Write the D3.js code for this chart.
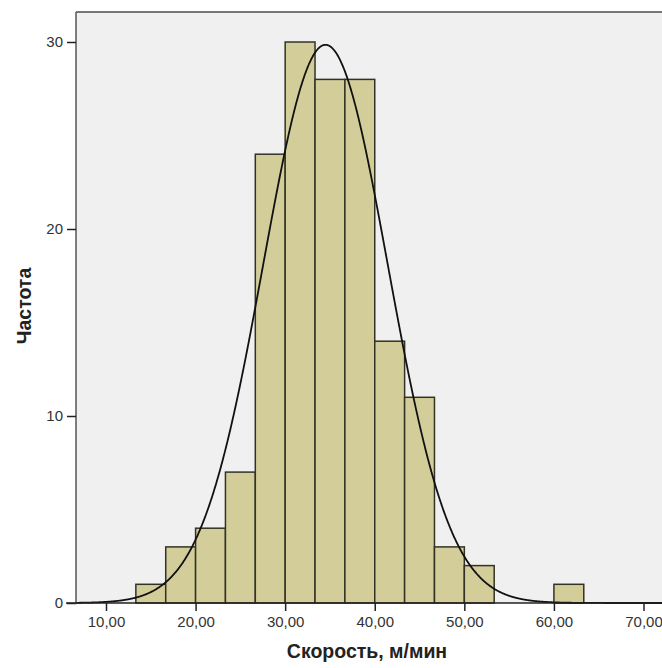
<!DOCTYPE html>
<html>
<head>
<meta charset="utf-8">
<script src="https://cdn.jsdelivr.net/npm/d3@7"></script>
<style>
  html, body { margin: 0; padding: 0; background: #ffffff; }
  svg { display: block; }
</style>
</head>
<body>
<script>
// Histogram of walking speed with a fitted normal curve.
const binWidth = 10 / 3;
const binStarts = [13.333, 16.667, 20.0, 23.333, 26.667, 30.0, 33.333, 36.667, 40.0, 43.333, 46.667, 50.0, 60.0];
const counts    = [1, 3, 4, 7, 24, 30, 28, 28, 14, 11, 3, 2, 1];
const xTicks = [10, 20, 30, 40, 50, 60, 70];
const yTicks = [0, 10, 20, 30];
const fitMean = 34.5;
const fitSD = 6.95;

const W = 662, H = 668;
const svg = d3.select("body").append("svg").attr("width", W).attr("height", H);

const x = d3.scaleLinear().domain([10, 70]).range([106, 643.5]);
const y = d3.scaleLinear().domain([0, 30]).range([603, 42]);

const plotLeft = 76, plotTop = 12, plotRight = W + 5, plotBottom = y(0);
const fontFamily = "Arial, 'Liberation Sans', sans-serif";

// plot background
svg.append("rect")
  .attr("x", plotLeft).attr("y", plotTop)
  .attr("width", plotRight - plotLeft).attr("height", plotBottom - plotTop)
  .attr("fill", "#f0f0f0");

// bars
svg.append("g").selectAll("rect")
  .data(binStarts.map((s, i) => ({ s, c: counts[i] })))
  .join("rect")
  .attr("x", d => x(d.s))
  .attr("y", d => y(d.c))
  .attr("width", d => x(d.s + binWidth) - x(d.s))
  .attr("height", d => y(0) - y(d.c))
  .attr("fill", "#d3ce99")
  .attr("stroke", "#333325")
  .attr("stroke-width", 1.5);

// normal curve scaled to counts
const total = d3.sum(counts);
const scaleK = total * binWidth / (fitSD * Math.sqrt(2 * Math.PI));
const xs = d3.range(x.invert(plotLeft), x.invert(plotRight), 0.05);
const line = d3.line()
  .x(v => x(v))
  .y(v => y(scaleK * Math.exp(-0.5 * Math.pow((v - fitMean) / fitSD, 2))));
svg.append("path")
  .datum(xs)
  .attr("d", line)
  .attr("fill", "none")
  .attr("stroke", "#111")
  .attr("stroke-width", 1.8);

// frame: top and left edges
svg.append("line")
  .attr("x1", plotLeft).attr("x2", plotRight)
  .attr("y1", plotTop).attr("y2", plotTop)
  .attr("stroke", "#777").attr("stroke-width", 2);
svg.append("line")
  .attr("x1", plotLeft).attr("x2", plotLeft)
  .attr("y1", plotTop).attr("y2", plotBottom)
  .attr("stroke", "#555").attr("stroke-width", 1.5);

// x axis
const xAxis = d3.axisBottom(x)
  .tickValues(xTicks)
  .tickSize(8)
  .tickPadding(5)
  .tickFormat(d => d3.format(".2f")(d).replace(".", ","));
const gx = svg.append("g").attr("transform", `translate(0,${plotBottom})`).call(xAxis);
gx.select(".domain").remove();
gx.append("line")
  .attr("x1", 66).attr("x2", plotRight)
  .attr("y1", 0).attr("y2", 0)
  .attr("stroke", "#222").attr("stroke-width", 1.5);
gx.selectAll(".tick line").attr("stroke", "#222").attr("stroke-width", 1.5);
gx.selectAll(".tick text")
  .attr("font-family", fontFamily).attr("font-size", 15)
  .attr("fill", "#333");

// y axis
const yAxis = d3.axisLeft(y)
  .tickValues(yTicks)
  .tickSize(9)
  .tickPadding(4)
  .tickFormat(d3.format("d"));
const gy = svg.append("g").attr("transform", `translate(${plotLeft},0)`).call(yAxis);
gy.select(".domain").remove();
gy.selectAll(".tick line").attr("stroke", "#222").attr("stroke-width", 1.5);
gy.selectAll(".tick text")
  .attr("font-family", fontFamily).attr("font-size", 15)
  .attr("fill", "#333");

// axis titles
svg.append("text")
  .attr("x", 367).attr("y", 658)
  .attr("text-anchor", "middle")
  .attr("font-family", fontFamily).attr("font-weight", "bold").attr("font-size", 19.5)
  .attr("fill", "#222")
  .text("Скорость, м/мин");

svg.append("text")
  .attr("transform", "translate(31,306) rotate(-90)")
  .attr("text-anchor", "middle")
  .attr("font-family", fontFamily).attr("font-weight", "bold").attr("font-size", 19.5)
  .attr("fill", "#222")
  .text("Частота");
</script>
</body>
</html>
